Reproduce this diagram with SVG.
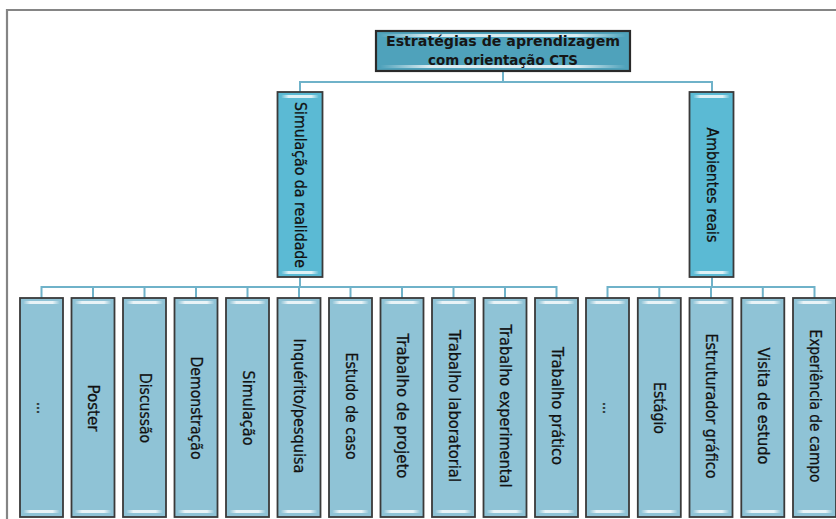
<svg xmlns="http://www.w3.org/2000/svg" width="836" height="519" viewBox="0 0 836 519">
<style>
.frame{stroke:#858585;stroke-width:2.2;fill:none}
.con{stroke:#6fb2c9;stroke-width:2;fill:none}
.top{fill:#4fa2bb;stroke:#2a2a2a;stroke-width:2.2}
.mid{fill:#5bbad4;stroke:#3a3a3a;stroke-width:1.8}
.leaf{fill:#8fc3d6;stroke:#3a3a3a;stroke-width:1.8}
.gl{fill:url(#gloss)}
.t1{font-family:"DejaVu Sans","Liberation Sans",sans-serif;font-weight:bold;font-size:14px;fill:#161616;text-anchor:middle}
.tv{font-family:"DejaVu Sans Condensed","Liberation Sans Narrow","Liberation Sans",sans-serif;font-size:15px;fill:#111111;stroke:#111111;stroke-width:0.25;text-anchor:middle;dominant-baseline:central}
</style>
<defs>
<linearGradient id="gloss" x1="0" y1="0" x2="1" y2="0">
<stop offset="0" stop-color="#ffffff" stop-opacity="0"/>
<stop offset="0.2" stop-color="#ffffff" stop-opacity="0.8"/>
<stop offset="0.8" stop-color="#ffffff" stop-opacity="0.8"/>
<stop offset="1" stop-color="#ffffff" stop-opacity="0"/>
</linearGradient>
</defs>
<path class="frame" d="M7,519 V10 H836"/>
<g id="connectors">
<path class="con" d="M503,71 V82 M300,92 V82 H712 V92"/>
<path class="con" d="M300,277 V287 M41.5,298 V287 H556.5 V298 M93,287 V298 M144.5,287 V298 M196,287 V298 M247.5,287 V298 M299,287 V298 M350.5,287 V298 M402,287 V298 M453.5,287 V298 M505,287 V298"/>
<path class="con" d="M712,277 V287 M607.5,298 V287 H814.5 V298 M659.3,287 V298 M711,287 V298 M762.8,287 V298"/>
</g>
<g id="n-root">
<rect class="top" x="376" y="31" width="254" height="40"/>
<rect class="gl" x="380" y="34" width="246" height="3" rx="1.5"/>
<rect class="gl" x="380" y="65" width="246" height="3" rx="1.5"/>
<text class="t1" x="503" y="46" textLength="234" lengthAdjust="spacingAndGlyphs">Estratégias de aprendizagem</text>
<text class="t1" x="503" y="65" textLength="150" lengthAdjust="spacingAndGlyphs">com orientação CTS</text>
</g>
<g id="n-sim">
<rect class="mid" x="277.5" y="92" width="45" height="185"/>
<rect class="gl" x="281" y="95" width="38" height="3" rx="1.5"/>
<rect class="gl" x="281" y="271" width="38" height="3" rx="1.5"/>
<text class="tv" transform="translate(300,185) rotate(90)" textLength="166" lengthAdjust="spacingAndGlyphs">Simulação da realidade</text>
</g>
<g id="n-amb">
<rect class="mid" x="689.5" y="92" width="44" height="185"/>
<rect class="gl" x="693" y="95" width="37" height="3" rx="1.5"/>
<rect class="gl" x="693" y="271" width="37" height="3" rx="1.5"/>
<text class="tv" transform="translate(711.5,185) rotate(90)" textLength="115" lengthAdjust="spacingAndGlyphs">Ambientes reais</text>
</g>
<g id="l1"><rect class="leaf" x="20" y="298" width="43" height="219"/><rect class="gl" x="23" y="301" width="37" height="3" rx="1.5"/><rect class="gl" x="23" y="510" width="37" height="3" rx="1.5"/><text class="tv" transform="translate(41.5,408) rotate(90)" textLength="12" lengthAdjust="spacingAndGlyphs">...</text></g>
<g id="l2"><rect class="leaf" x="71.5" y="298" width="43" height="219"/><rect class="gl" x="74.5" y="301" width="37" height="3" rx="1.5"/><rect class="gl" x="74.5" y="510" width="37" height="3" rx="1.5"/><text class="tv" transform="translate(93,408) rotate(90)" textLength="47" lengthAdjust="spacingAndGlyphs">Poster</text></g>
<g id="l3"><rect class="leaf" x="123" y="298" width="43" height="219"/><rect class="gl" x="126" y="301" width="37" height="3" rx="1.5"/><rect class="gl" x="126" y="510" width="37" height="3" rx="1.5"/><text class="tv" transform="translate(144.5,408) rotate(90)" textLength="70" lengthAdjust="spacingAndGlyphs">Discussão</text></g>
<g id="l4"><rect class="leaf" x="174.5" y="298" width="43" height="219"/><rect class="gl" x="177.5" y="301" width="37" height="3" rx="1.5"/><rect class="gl" x="177.5" y="510" width="37" height="3" rx="1.5"/><text class="tv" transform="translate(196,408) rotate(90)" textLength="103" lengthAdjust="spacingAndGlyphs">Demonstração</text></g>
<g id="l5"><rect class="leaf" x="226" y="298" width="43" height="219"/><rect class="gl" x="229" y="301" width="37" height="3" rx="1.5"/><rect class="gl" x="229" y="510" width="37" height="3" rx="1.5"/><text class="tv" transform="translate(247.5,408) rotate(90)" textLength="75" lengthAdjust="spacingAndGlyphs">Simulação</text></g>
<g id="l6"><rect class="leaf" x="277.5" y="298" width="43" height="219"/><rect class="gl" x="280.5" y="301" width="37" height="3" rx="1.5"/><rect class="gl" x="280.5" y="510" width="37" height="3" rx="1.5"/><text class="tv" transform="translate(299,406) rotate(90)" textLength="135" lengthAdjust="spacingAndGlyphs">Inquérito/pesquisa</text></g>
<g id="l7"><rect class="leaf" x="329" y="298" width="43" height="219"/><rect class="gl" x="332" y="301" width="37" height="3" rx="1.5"/><rect class="gl" x="332" y="510" width="37" height="3" rx="1.5"/><text class="tv" transform="translate(350.5,406) rotate(90)" textLength="107" lengthAdjust="spacingAndGlyphs">Estudo de caso</text></g>
<g id="l8"><rect class="leaf" x="380.5" y="298" width="43" height="219"/><rect class="gl" x="383.5" y="301" width="37" height="3" rx="1.5"/><rect class="gl" x="383.5" y="510" width="37" height="3" rx="1.5"/><text class="tv" transform="translate(402,406) rotate(90)" textLength="145" lengthAdjust="spacingAndGlyphs">Trabalho de projeto</text></g>
<g id="l9"><rect class="leaf" x="432" y="298" width="43" height="219"/><rect class="gl" x="435" y="301" width="37" height="3" rx="1.5"/><rect class="gl" x="435" y="510" width="37" height="3" rx="1.5"/><text class="tv" transform="translate(453.5,406) rotate(90)" textLength="152" lengthAdjust="spacingAndGlyphs">Trabalho laboratorial</text></g>
<g id="l10"><rect class="leaf" x="483.5" y="298" width="43" height="219"/><rect class="gl" x="486.5" y="301" width="37" height="3" rx="1.5"/><rect class="gl" x="486.5" y="510" width="37" height="3" rx="1.5"/><text class="tv" transform="translate(505,406) rotate(90)" textLength="163" lengthAdjust="spacingAndGlyphs">Trabalho experimental</text></g>
<g id="l11"><rect class="leaf" x="535" y="298" width="43" height="219"/><rect class="gl" x="538" y="301" width="37" height="3" rx="1.5"/><rect class="gl" x="538" y="510" width="37" height="3" rx="1.5"/><text class="tv" transform="translate(556.5,406) rotate(90)" textLength="118" lengthAdjust="spacingAndGlyphs">Trabalho prático</text></g>
<g id="r1"><rect class="leaf" x="586" y="298" width="43" height="219"/><rect class="gl" x="589" y="301" width="37" height="3" rx="1.5"/><rect class="gl" x="589" y="510" width="37" height="3" rx="1.5"/><text class="tv" transform="translate(607.5,408) rotate(90)" textLength="12" lengthAdjust="spacingAndGlyphs">...</text></g>
<g id="r2"><rect class="leaf" x="637.8" y="298" width="43" height="219"/><rect class="gl" x="640.8" y="301" width="37" height="3" rx="1.5"/><rect class="gl" x="640.8" y="510" width="37" height="3" rx="1.5"/><text class="tv" transform="translate(659.3,408) rotate(90)" textLength="52" lengthAdjust="spacingAndGlyphs">Estágio</text></g>
<g id="r3"><rect class="leaf" x="689.5" y="298" width="43" height="219"/><rect class="gl" x="692.5" y="301" width="37" height="3" rx="1.5"/><rect class="gl" x="692.5" y="510" width="37" height="3" rx="1.5"/><text class="tv" transform="translate(711,406) rotate(90)" textLength="145" lengthAdjust="spacingAndGlyphs">Estruturador gráfico</text></g>
<g id="r4"><rect class="leaf" x="741.3" y="298" width="43" height="219"/><rect class="gl" x="744.3" y="301" width="37" height="3" rx="1.5"/><rect class="gl" x="744.3" y="510" width="37" height="3" rx="1.5"/><text class="tv" transform="translate(762.8,406) rotate(90)" textLength="117" lengthAdjust="spacingAndGlyphs">Visita de estudo</text></g>
<g id="r5"><rect class="leaf" x="793" y="298" width="43" height="219"/><rect class="gl" x="796" y="301" width="37" height="3" rx="1.5"/><rect class="gl" x="796" y="510" width="37" height="3" rx="1.5"/><text class="tv" transform="translate(814.5,406) rotate(90)" textLength="153" lengthAdjust="spacingAndGlyphs">Experiência de campo</text></g>
</svg>
